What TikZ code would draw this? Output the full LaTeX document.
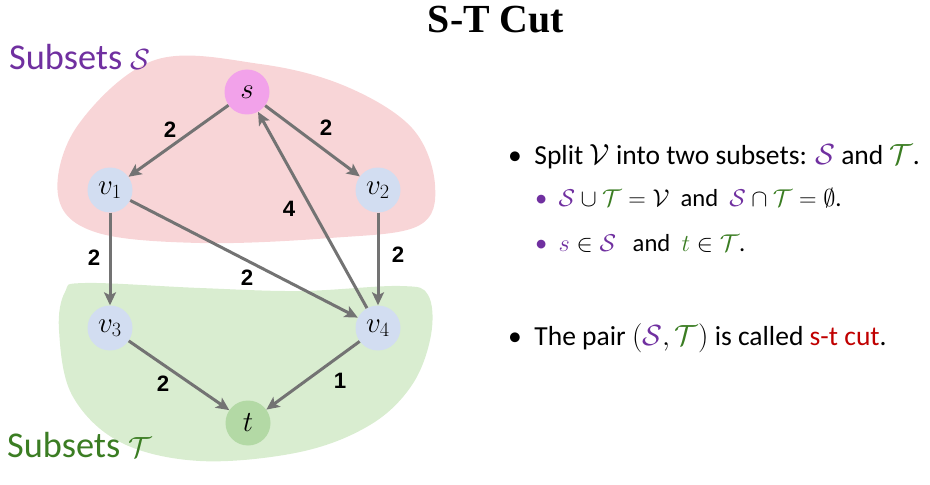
\documentclass[tikz,border=0pt]{standalone}
\usepackage{amsmath,amssymb}
\usepackage{fontspec}
\setmainfont{Carlito}
\newfontfamily\titlefont{Liberation Serif}
\newfontfamily\weightfont{Liberation Sans}
\usetikzlibrary{arrows.meta,positioning}
\definecolor{SetPurple}{HTML}{7030A0}
\definecolor{SetGreen}{HTML}{3B7D23}
\definecolor{CutRed}{HTML}{C00000}
\definecolor{SoftPink}{HTML}{F8D5D7}
\definecolor{SoftLime}{HTML}{D9EDD0}
\definecolor{SourcePink}{HTML}{F2A2EA}
\definecolor{InnerBlue}{HTML}{D2DDF1}
\definecolor{SinkGreen}{HTML}{B3D9A5}
\definecolor{EdgeGray}{HTML}{737373}
\tikzset{
  vertex/.style={circle,fill=InnerBlue,minimum size=45\pxu,inner sep=0pt,font=\fontsize{27}{27}\selectfont},
  source/.style={vertex,fill=SourcePink},
  sink/.style={vertex,fill=SinkGreen},
  edge/.style={-{Stealth[length=13\pxu,width=12\pxu,inset=3\pxu]},line width=3\pxu,draw=EdgeGray},
  weight/.style={font=\weightfont\bfseries\fontsize{19}{19}\selectfont},
  setlabel/.style={font=\fontsize{31}{31}\selectfont,anchor=west},
  point/.style={font=\fontsize{23.5}{23.5}\selectfont,anchor=west,inner sep=0pt},
  subpoint/.style={font=\fontsize{21}{21}\selectfont,anchor=west,inner sep=0pt}
}
\newcommand{\pxu}{*0.8535pt}
\newcommand{\cS}{\textcolor{SetPurple}{\mathcal{S}}}
\newcommand{\cT}{\textcolor{SetGreen}{\mathcal{T}}}
\begin{document}
\begin{tikzpicture}[x=0.03cm,y=-0.03cm]
  \useasboundingbox (0,0) rectangle (930,485);

  % the two subsets
  \fill[SoftPink] plot[smooth cycle,tension=0.6] coordinates
    {(155,60) (260,64) (345,86) (412,128) (435,185) (418,226) (330,238) (200,243) (95,232) (58,195) (78,125)};
  \fill[SoftLime] plot[smooth cycle,tension=0.6] coordinates
    {(85,283) (200,288) (300,291) (400,286) (428,295) (431,335) (412,385) (370,425) (300,452) (200,461) (120,442) (72,395) (59,330) (65,292)};

  \node[setlabel,text=SetPurple] (labS) at (5,57) {Subsets $\mathcal{S}$};
  \node[setlabel,text=SetGreen] (labT) at (3,445) {Subsets $\mathcal{T}$};

  % vertices
  \node[source] (s) at (247,92) {$s$};
  \node[vertex] (v1) at (110,190) {$v_1$};
  \node[vertex] (v2) at (378,190) {$v_2$};
  \node[vertex] (v3) at (110,328) {$v_3$};
  \node[vertex] (v4) at (378,328) {$v_4$};
  \node[sink] (t) at (248,423) {$t$};

  % edges
  \draw[edge] (s) -- (v1);
  \draw[edge] (s) -- (v2);
  \draw[edge] (v4) -- (s);
  \draw[edge] (v1) -- (v3);
  \draw[edge] (v1) -- (v4);
  \draw[edge] (v2) -- (v4);
  \draw[edge] (v3) -- (t);
  \draw[edge] (v4) -- (t);

  \node[weight] (w1) at (170,130) {2};
  \node[weight] (w2) at (326,128) {2};
  \node[weight] (w3) at (289,209) {4};
  \node[weight] (w4) at (94,258) {2};
  \node[weight] (w5) at (247,278) {2};
  \node[weight] (w6) at (398,255) {2};
  \node[weight] (w7) at (163,384) {2};
  \node[weight] (w8) at (340,381) {1};

  % title and text
  \node[font=\titlefont\bfseries\fontsize{34}{34}\selectfont] (title) at (496,20) {S-T Cut};
  \node[point] (pt1) at (508,157) {\textbullet\ \ Split $\mathcal{V}$ into two subsets: $\cS$ and $\cT$.};
  \node[subpoint] (pt1a) at (535,198) {\textcolor{SetPurple}{\textbullet}\ \ $\cS\cup\cT=\mathcal{V}$\ \ and\ \ $\cS\cap\cT=\emptyset$.};
  \node[subpoint] (pt1b) at (535,243) {\textcolor{SetPurple}{\textbullet}\ \ $\textcolor{SetPurple}{s}\in\cS$\ \ \ and\ \ $\textcolor{SetGreen}{t}\in\cT$.};
  \node[point] (pt2) at (508,338) {\textbullet\ \ The pair $(\cS,\cT)$ is called \textcolor{CutRed}{s-t cut}.};
\end{tikzpicture}
\end{document}
